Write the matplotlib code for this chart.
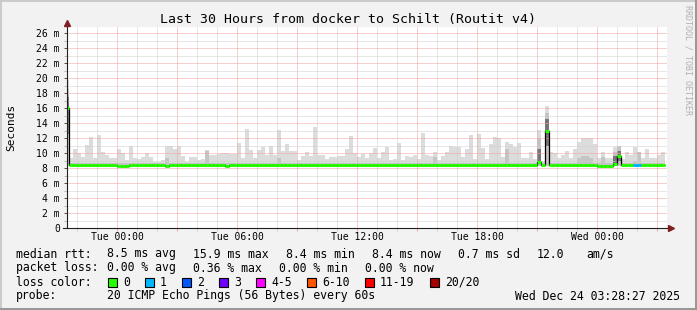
import numpy as np
import matplotlib.pyplot as plt
from matplotlib.patches import Rectangle
from matplotlib.lines import Line2D

plt.rcParams['font.family'] = ['DejaVu Sans Mono']

# time in hours from Tue 00:00, one step = 12 min, the first step is only half of one
bin_edges = np.concatenate(([-2.5], np.arange(-2.4, 27.41, 0.2)))

# top of the light smoke (ms) per step
smoke_max = [19.7,
             9.3, 10.5, 10.0, 9.5, 11.1, 12.1, 9.3, 12.4, 10.2, 9.7,
             9.3, 9.3, 10.5, 10.0, 9.1, 11.0, 9.3, 9.2, 9.5, 10.0,
             9.5, 8.8, 8.8, 9.1, 11.0, 11.0, 10.5, 11.0, 9.6, 8.8,
             9.5, 9.5, 9.1, 9.2, 10.4, 9.8, 9.8, 9.9, 10.0, 10.0,
             9.9, 9.9, 11.3, 9.3, 13.2, 10.4, 9.3, 10.4, 10.8, 9.7,
             11.0, 9.7, 13.1, 10.3, 11.2, 10.3, 10.3, 9.1, 9.6, 10.1,
             9.6, 13.5, 9.8, 9.8, 9.2, 9.5, 9.5, 9.6, 9.6, 10.5,
             12.3, 10.0, 9.5, 9.9, 9.3, 10.0, 10.7, 9.4, 10.1, 10.8,
             9.1, 9.2, 11.3, 9.1, 9.6, 9.5, 9.7, 9.2, 12.7, 9.7,
             9.6, 10.1, 9.1, 9.6, 10.1, 11.0, 10.8, 10.8, 9.5, 10.5,
             12.4, 9.2, 12.5, 10.7, 9.2, 11.2, 12.1, 12.0, 9.5, 11.5,
             11.2, 10.8, 11.4, 9.4, 9.4, 10.1, 9.2, 13.1, 9.0, 16.3,
             10.1, 10.0, 9.3, 9.8, 10.3, 9.3, 10.5, 11.5, 12.0, 12.0,
             12.0, 11.2, 9.4, 10.1, 9.3, 9.3, 10.8, 10.6, 9.2, 10.1,
             9.7, 10.8, 9.6, 9.4, 10.6, 9.4, 9.4, 9.8, 10.1]

# top of the darker smoke band
smoke_mid = ([18.5] + [8.7] * 24 + [9.3] + [8.7] * 9 + [10.3] + [8.7] * 17 + [9.3]
             + [8.7] * 38 + [9.5] + [8.7] * 17 + [10.6] + [8.7] * 7 + [12.0] + [8.7]
             + [15.3] + [8.7] * 7 + [9.3, 9.6, 9.6, 9.3] + [8.7] * 2 + [9.5] + [8.7] * 2
             + [10.2, 11.0] + [8.7] * 3 + [9.0, 10.1] + [8.7] * 6)
smoke_floor = 8.3

# dark core of the smoke where the pings spread widely
core_bins = [0, 118, 120, 137, 138]
core_lo = [12.5, 8.6, 11.0, 8.5, 9.0]
core_hi = [17.5, 10.5, 14.5, 9.6, 10.3]

median = ([16.0] + [8.45] * 12 + [8.3] * 3 + [8.45] * 9 + [8.3] + [8.45] * 14 + [8.3]
          + [8.45] * 77 + [8.8, 8.45, 13.0] + [8.45] * 12 + [8.3] * 4 + [8.6, 9.6]
          + [8.45] * 5 + [8.35] * 2 + [8.45] * 4)
loss = [0] * 142 + [1, 1] + [0] * 6

x_ticks = [0, 6, 12, 18, 24]
x_labels = ['Tue 00:00', 'Tue 06:00', 'Tue 12:00', 'Tue 18:00', 'Wed 00:00']
y_ticks = list(range(0, 27, 2))
y_labels = ['0'] + [f'{v} m' for v in y_ticks[1:]]

loss_labels = ['0', '1', '2', '3', '4-5', '6-10', '11-19', '20/20']
loss_colors = ['#26ff00', '#00b8ff', '#0059ff', '#7000ff', '#ff00ff', '#ff5500', '#ff0000', '#a00000']
rtt_stats = ['8.5 ms avg', '15.9 ms max', '8.4 ms min', '8.4 ms now', '0.7 ms sd', '12.0', 'am/s']
loss_stats = ['0.00 % avg', '0.36 % max', '0.00 % min', '0.00 % now']

W, H = 697, 310


def fx(p):
    return p / W


def fy(p):
    return 1 - p / H


fig = plt.figure(figsize=(W / 100, H / 100), dpi=100)
fig.patch.set_facecolor('#f2f2f2')
ax = fig.add_axes([fx(67), fy(228), 600 / W, 201 / H])
ax.set_facecolor('white')

left = bin_edges[:-1]
width = np.diff(bin_edges)
ax.bar(left, np.array(smoke_max) - smoke_floor, width, bottom=smoke_floor,
       align='edge', color='#dcdcdc', linewidth=0)
ax.bar(left, np.array(smoke_mid) - smoke_floor, width, bottom=smoke_floor,
       align='edge', color='#c4c4c4', linewidth=0)
ax.bar(left[core_bins], np.array(core_hi) - np.array(core_lo), width[core_bins],
       bottom=core_lo, align='edge', color='#767676', linewidth=0)

ax.stairs(median, bin_edges, baseline=None, color='black', linewidth=0.9, zorder=3)
ax.hlines(median, left, bin_edges[1:], colors=[loss_colors[n] for n in loss],
          linewidth=2.2, zorder=4)

ax.set_xlim(-2.5, 27.5)
ax.set_ylim(0, 26.8)

major_x = np.arange(0, 27.5, 3)
ax.set_xticks(major_x)
ax.set_xticklabels([x_labels[x_ticks.index(t)] if t in x_ticks else '' for t in major_x])
ax.set_xticks(np.arange(-2, 27.5, 1), minor=True)
ax.set_yticks(y_ticks)
ax.set_yticklabels(y_labels)
ax.set_yticks(np.arange(1, 26.5, 2), minor=True)

ax.set_axisbelow('line')
ax.grid(which='minor', color='#cfcfcf', linestyle=(0, (1, 1)), linewidth=0.72)
ax.grid(which='major', color='#f2a0a0', linestyle=(0, (1, 1)), linewidth=0.72)

ax.tick_params(which='both', direction='out', width=0.72, labelsize=7)
ax.tick_params(axis='x', which='major', length=2.2, color='#f2a0a0', pad=1)
ax.tick_params(axis='x', which='minor', length=2.2, color='#cfcfcf')
ax.tick_params(axis='y', which='major', length=2.2, color='#555555', pad=3)
ax.tick_params(axis='y', which='minor', length=2.2, color='#bbbbbb')
for s in ax.spines.values():
    s.set_visible(False)

# axes with arrows
ax.plot([0, 0], [0, 1 + 5 / 201], transform=ax.transAxes, color='#1f1f1f',
        linewidth=0.8, clip_on=False, zorder=5)
ax.plot([-4 / 600, 1 + 2 / 600], [0, 0], transform=ax.transAxes, color='#1f1f1f',
        linewidth=0.8, clip_on=False, zorder=5)
ax.plot([0], [1 + 4 / 201], transform=ax.transAxes, marker='^', markersize=4,
        color='#7f1f1f', clip_on=False, zorder=6)
ax.plot([1 + 4 / 600], [0], transform=ax.transAxes, marker='>', markersize=4,
        color='#7f1f1f', clip_on=False, zorder=6)

fig.text(0.5, fy(19), 'Last 30 Hours from docker to Schilt (Routit v4)',
         ha='center', va='center', fontsize=9.5)
fig.text(fx(11), fy(127), 'Seconds', rotation=90, ha='center', va='center', fontsize=8)
fig.text(fx(688), fy(60), 'RRDTOOL / TOBI OETIKER', rotation=270, ha='center',
         va='center', fontsize=6, color='#b0b0b0')

fs = 8.3
fig.text(fx(16), fy(254), 'median rtt:', va='center', fontsize=fs)
for s, px in zip(rtt_stats, [107, 193, 286, 372, 458, 537, 586]):
    fig.text(fx(px), fy(254), s, va='center', fontsize=fs)
fig.text(fx(16), fy(268), 'packet loss:', va='center', fontsize=fs)
for s, px in zip(loss_stats, [107, 193, 279, 365]):
    fig.text(fx(px), fy(268), s, va='center', fontsize=fs)
fig.text(fx(16), fy(282), 'loss color:', va='center', fontsize=fs)
for lab, col, px in zip(loss_labels, loss_colors, [108, 145, 182, 219, 256, 307, 365, 430]):
    fig.add_artist(Rectangle((fx(px), fy(287)), 9 / W, 9 / H, transform=fig.transFigure,
                             facecolor=col, edgecolor='black', linewidth=0.8))
    fig.text(fx(px + 15), fy(282), lab, va='center', fontsize=fs)
fig.text(fx(16), fy(296), 'probe:', va='center', fontsize=fs)
fig.text(fx(107), fy(296), '20 ICMP Echo Pings (56 Bytes) every 60s', va='center', fontsize=fs)
fig.text(fx(680), fy(296), 'Wed Dec 24 03:28:27 2025', ha='right', va='center', fontsize=fs)

# 3d frame round the image
fig.add_artist(Line2D([0, 1], [1, 1], transform=fig.transFigure, color='#cbcbcb', linewidth=2.9))
fig.add_artist(Line2D([0, 0], [0, 1], transform=fig.transFigure, color='#cbcbcb', linewidth=2.9))
fig.add_artist(Line2D([0, 1], [0, 0], transform=fig.transFigure, color='#999999', linewidth=2.9))
fig.add_artist(Line2D([1, 1], [0, 1], transform=fig.transFigure, color='#999999', linewidth=2.9))

fig.savefig('out.png', dpi=100, facecolor=fig.get_facecolor())
